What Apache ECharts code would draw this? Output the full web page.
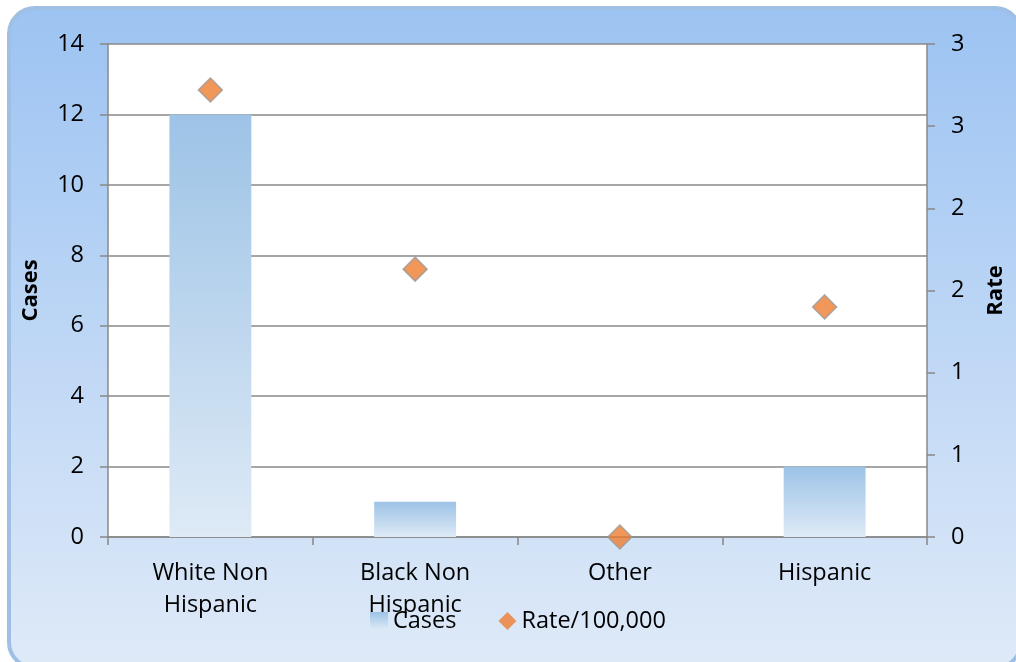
<!DOCTYPE html>
<html>
<head>
<meta charset="utf-8">
<script src="https://cdn.jsdelivr.net/npm/echarts@6/dist/echarts.min.js"></script>
<style>
  html, body { margin: 0; padding: 0; background: #fff; }
  #chart { width: 1016px; height: 662px; }
</style>
</head>
<body>
<div id="chart"></div>
<script>
const categories = ['White Non\nHispanic', 'Black Non\nHispanic', 'Other', 'Hispanic']
const cases = [12, 1, 0, 2]
const rates = [2.72, 1.63, 0, 1.4]

const font = '"Open Sans", "Liberation Sans", sans-serif'

const chart = echarts.init(document.getElementById('chart'))

const barFill = new echarts.graphic.LinearGradient(0, 0, 0, 1, [
  {offset: 0, color: '#9dc3e6'},
  {offset: 1, color: '#deeaf6'}
])

chart.setOption({
  animation: false,
  textStyle: {fontFamily: font},
  graphic: [{
    type: 'rect',
    z: -10,
    shape: {x: 9, y: 8, width: 1012, height: 660, r: 26},
    style: {
      fill: new echarts.graphic.LinearGradient(0, 0, 0, 1, [
        {offset: 0, color: '#9cc3f2'},
        {offset: 1, color: '#dfeaf8'}
      ]),
      stroke: '#9fc0e4',
      lineWidth: 4
    }
  }, {
    type: 'rect',
    z: -9,
    shape: {x: 108, y: 44, width: 819, height: 493},
    style: {fill: '#fff'}
  }],
  grid: {left: 108, right: 89, top: 44, bottom: 125},
  legend: {
    bottom: 24,
    left: 365,
    itemGap: 42,
    itemWidth: 18,
    itemHeight: 18,
    textStyle: {fontSize: 23.5, color: '#000', fontFamily: font},
    data: [
      {name: 'Cases', icon: 'rect'},
      {name: 'Rate/100,000', icon: 'diamond', itemStyle: {borderWidth: 0}}
    ]
  },
  xAxis: {
    type: 'category',
    data: categories,
    axisLine: {lineStyle: {color: '#888', width: 1.5}},
    axisTick: {show: true, length: 8, lineStyle: {color: '#888', width: 1.5}},
    axisLabel: {fontSize: 23.5, color: '#000', margin: 20, lineHeight: 32}
  },
  yAxis: [{
    type: 'value',
    name: 'Cases',
    nameLocation: 'middle',
    nameGap: 66,
    nameTextStyle: {fontSize: 22, fontWeight: 'bold', color: '#000'},
    min: 0, max: 14, interval: 2,
    axisLine: {show: true, lineStyle: {color: '#888', width: 1.5}},
    axisTick: {show: true, length: 8, lineStyle: {color: '#888', width: 1.5}},
    splitLine: {lineStyle: {color: '#888', width: 1.5}},
    axisLabel: {fontSize: 23.5, color: '#000', margin: 24}
  }, {
    type: 'value',
    name: 'Rate',
    nameLocation: 'middle',
    nameGap: 58,
    nameTextStyle: {fontSize: 22, fontWeight: 'bold', color: '#000'},
    min: 0, max: 3, interval: 0.5,
    position: 'right',
    axisLine: {show: true, lineStyle: {color: '#888', width: 1.5}},
    axisTick: {show: true, length: 8, lineStyle: {color: '#888', width: 1.5}},
    splitLine: {show: false},
    axisLabel: {fontSize: 23.5, color: '#000', margin: 24, formatter: v => Math.round(v)}
  }],
  series: [{
    name: 'Cases',
    type: 'bar',
    data: cases,
    barWidth: '40%',
    itemStyle: {color: barFill}
  }, {
    name: 'Rate/100,000',
    type: 'scatter',
    yAxisIndex: 1,
    data: rates,
    symbol: 'diamond',
    symbolSize: 24,
    itemStyle: {color: '#ed7d31', borderColor: '#999', borderWidth: 1.5},
    z: 5
  }]
})
</script>
</body>
</html>
